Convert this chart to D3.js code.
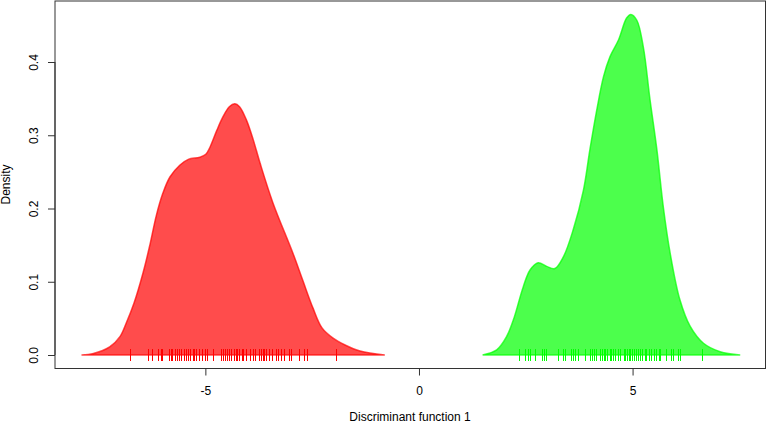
<!DOCTYPE html>
<html>
<head>
<meta charset="utf-8">
<script src="https://cdn.jsdelivr.net/npm/d3@7"></script>
<style>
html,body{margin:0;padding:0;background:#fff;}
svg{display:block;font-family:"Liberation Sans",Arial,Helvetica,sans-serif;}
</style>
</head>
<body>
<svg id="chart" width="767" height="423"></svg>
<script>
// ---- data ----
const xTicks = [-5, 0, 5];
const yTicks = [0, 0.1, 0.2, 0.3, 0.4];
const xTickLabels = ["-5", "0", "5"];
const yTickLabels = ["0.0", "0.1", "0.2", "0.3", "0.4"];

// density curve of group 1 (red): x positions and density values
const redX = [-7.90, -7.62, -7.24, -7.00, -6.85, -6.67, -6.46, -6.30, -6.15, -6.00, -5.83, -5.60, -5.40, -5.13, -4.99, -4.89, -4.73, -4.59, -4.44, -4.31, -4.20, -4.04, -3.88, -3.72, -3.42, -2.95, -2.72, -2.48, -2.27, -2.01, -1.73, -1.38, -0.80];
const redY = [0.000, 0.002, 0.011, 0.025, 0.044, 0.071, 0.112, 0.150, 0.190, 0.220, 0.243, 0.259, 0.267, 0.270, 0.274, 0.284, 0.307, 0.325, 0.339, 0.343, 0.339, 0.321, 0.294, 0.262, 0.208, 0.139, 0.102, 0.064, 0.037, 0.023, 0.0137, 0.0055, 0.000];

// density curve of group 2 (green)
const greenX = [1.49, 1.82, 2.05, 2.21, 2.44, 2.60, 2.79, 2.99, 3.18, 3.38, 3.61, 3.85, 4.00, 4.16, 4.32, 4.47, 4.67, 4.86, 4.96, 5.10, 5.25, 5.41, 5.57, 5.72, 5.88, 6.11, 6.35, 6.66, 7.05, 7.52];
const greenY = [0.000, 0.007, 0.025, 0.048, 0.093, 0.116, 0.126, 0.121, 0.118, 0.134, 0.171, 0.225, 0.280, 0.334, 0.380, 0.407, 0.430, 0.460, 0.465, 0.457, 0.421, 0.348, 0.280, 0.202, 0.139, 0.075, 0.039, 0.016, 0.0045, 0.000];

// rug (individual observations)
const redRug = [-6.76, -6.34, -6.25, -6.12, -6.05, -6.01, -5.86, -5.81, -5.78, -5.72, -5.66, -5.61, -5.56, -5.51, -5.46, -5.40, -5.35, -5.30, -5.26, -5.22, -5.15, -5.07, -5.01, -4.96, -4.81, -4.64, -4.59, -4.54, -4.50, -4.44, -4.39, -4.33, -4.29, -4.25, -4.21, -4.15, -4.11, -4.04, -3.96, -3.89, -3.84, -3.74, -3.70, -3.66, -3.62, -3.57, -3.51, -3.45, -3.35, -3.31, -3.22, -3.16, -3.04, -3.00, -2.80, -2.69, -2.61, -1.95];
const greenRug = [2.35, 2.49, 2.55, 2.61, 2.72, 2.88, 2.93, 2.98, 3.26, 3.37, 3.43, 3.55, 3.61, 3.66, 3.72, 3.88, 4.00, 4.04, 4.09, 4.15, 4.23, 4.29, 4.33, 4.36, 4.40, 4.46, 4.50, 4.54, 4.58, 4.66, 4.71, 4.79, 4.83, 4.87, 4.91, 4.95, 4.99, 5.03, 5.07, 5.12, 5.17, 5.22, 5.28, 5.32, 5.38, 5.44, 5.50, 5.55, 5.61, 5.65, 5.79, 5.89, 5.94, 6.06, 6.11, 6.63];

const xTitle = "Discriminant function 1";
const yTitle = "Density";

// ---- drawing ----
const svg = d3.select("#chart");
const x = d3.scaleLinear().domain([-8.52, 8.10]).range([55, 765]);
const y = d3.scaleLinear().domain([0, 0.4]).range([355, 62]);

const area = d3.area()
  .x(d => x(d[0])).y0(y(0)).y1(d => y(d[1]))
  .curve(d3.curveCatmullRom.alpha(0.5));

const groups = [
  {xs: redX, ys: redY, rug: redRug, fill: "rgba(255,0,0,0.7)", line: "#ff0000"},
  {xs: greenX, ys: greenY, rug: greenRug, fill: "rgba(0,255,0,0.7)", line: "#00ff00"}
];

groups.forEach(g => {
  const pts = g.xs.map((v, i) => [v, g.ys[i]]);
  svg.append("path")
    .attr("d", area(pts))
    .attr("fill", g.fill)
    .attr("stroke", g.fill)
    .attr("stroke-width", 1.5);
  svg.append("g").selectAll("line").data(g.rug).join("line")
    .attr("x1", d => Math.round(x(d)) + 0.5).attr("x2", d => Math.round(x(d)) + 0.5)
    .attr("y1", y(0) - 6).attr("y2", y(0) + 6)
    .attr("stroke", g.line).attr("stroke-width", 1);
});

// frame
svg.append("rect")
  .attr("x", 55).attr("y", 1)
  .attr("width", 710.5).attr("height", 367.5)
  .attr("fill", "none").attr("stroke", "#333").attr("stroke-width", 1);

// x axis
const xAxis = svg.append("g")
  .attr("transform", "translate(0,368.5)")
  .call(d3.axisBottom(x).tickValues(xTicks).tickSize(7).tickPadding(10.5)
    .tickFormat((d, i) => xTickLabels[i]));
xAxis.select(".domain").attr("d", `M${x(-5)},0H${x(5)}`).attr("stroke", "#333");
xAxis.selectAll(".tick line").attr("stroke", "#333");
xAxis.selectAll("text").attr("font-size", 12).attr("fill", "#000")
  .attr("font-family", "Liberation Sans, Arial, sans-serif");

// y axis
const yAxis = svg.append("g")
  .attr("transform", "translate(55,0)")
  .call(d3.axisLeft(y).tickValues(yTicks).tickSize(7)
    .tickFormat((d, i) => yTickLabels[i]));
yAxis.select(".domain").attr("d", `M0,${y(0)}V${y(0.4)}`).attr("stroke", "#333");
yAxis.selectAll(".tick line").attr("stroke", "#333");
yAxis.selectAll("text")
  .attr("x", null).attr("dy", null).attr("y", 0)
  .attr("text-anchor", "middle")
  .attr("transform", "translate(-17,0) rotate(-90)")
  .attr("font-size", 12).attr("fill", "#000")
  .attr("font-family", "Liberation Sans, Arial, sans-serif");

// titles
svg.append("text")
  .attr("x", 410).attr("y", 421)
  .attr("text-anchor", "middle").attr("font-size", 12)
  .text(xTitle);
svg.append("text")
  .attr("transform", "translate(10,184.5) rotate(-90)")
  .attr("text-anchor", "middle").attr("font-size", 12)
  .text(yTitle);
</script>
</body>
</html>
